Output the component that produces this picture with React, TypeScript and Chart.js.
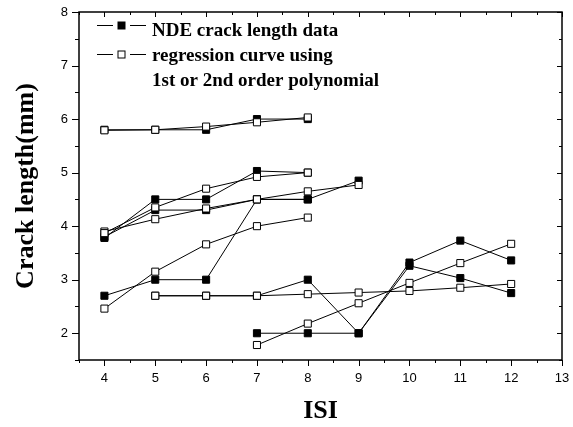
import React, { useEffect, useRef } from 'react';
import { Chart, registerables } from 'chart.js';

Chart.register(...registerables);

// ISI values and crack lengths (mm) for each specimen
const isiF = [4, 5, 6, 7, 8];
const ndeF = [5.8, 5.8, 5.8, 6.0, 6.0];
const regF = [5.79, 5.8, 5.86, 5.94, 6.03];

const isiA = [4, 5, 6, 7, 8];
const ndeA = [3.78, 4.5, 4.5, 5.03, 5.0];
const regA = [3.87, 4.35, 4.7, 4.92, 5.0];

const isiB = [4, 5, 6, 7, 8, 9];
const ndeB = [3.8, 4.3, 4.3, 4.5, 4.5, 4.85];
const regB = [3.9, 4.13, 4.33, 4.5, 4.65, 4.77];

const isiC = [4, 5, 6, 7, 8];
const ndeC = [2.7, 3.0, 3.0, 4.5, 4.5];
const regC = [2.46, 3.15, 3.66, 4.0, 4.16];

const isiD = [5, 6, 7, 8, 9, 10, 11, 12];
const ndeD = [2.7, 2.7, 2.7, 3.0, 2.0, 3.26, 3.03, 2.75];
const regD = [2.7, 2.7, 2.7, 2.73, 2.76, 2.79, 2.85, 2.92];

const isiE = [7, 8, 9, 10, 11, 12];
const ndeE = [2.0, 2.0, 2.0, 3.32, 3.73, 3.36];
const regE = [1.78, 2.18, 2.56, 2.94, 3.31, 3.67];

const xTitle = 'ISI';
const yTitle = 'Crack length(mm)';
const legendNde = 'NDE crack length data';
const legendReg = ['regression curve using', '1st or 2nd order polynomial'];

const pts = (xs: number[], ys: number[]) => xs.map((x, i) => ({ x, y: ys[i] }));

const frameAndLegend = {
  id: 'frameAndLegend',
  afterDraw(chart: any) {
    const { ctx, chartArea } = chart;
    const { left, right, top, bottom } = chartArea;
    const xs = chart.scales.x;
    const ys = chart.scales.y;
    ctx.save();
    ctx.strokeStyle = '#000';
    ctx.lineWidth = 1.5;
    ctx.strokeRect(left, top, right - left, bottom - top);
    ctx.lineWidth = 1;
    const seg = (x1: number, y1: number, x2: number, y2: number) => {
      ctx.beginPath();
      ctx.moveTo(x1, y1);
      ctx.lineTo(x2, y2);
      ctx.stroke();
    };
    for (let v = xs.min; v <= xs.max + 1e-6; v += 0.5) {
      const px = Math.round(xs.getPixelForValue(v)) + 0.5;
      const major = Math.abs(v - Math.round(v)) < 1e-6;
      seg(px, bottom, px, bottom + (major ? 6 : 3));
      seg(px, top, px, top + (major ? 5 : 3));
    }
    for (let v = ys.min; v <= ys.max + 1e-6; v += 0.5) {
      const py = Math.round(ys.getPixelForValue(v)) + 0.5;
      const major = Math.abs(v - Math.round(v)) < 1e-6;
      seg(left, py, left - (major ? 7 : 4), py);
      seg(right, py, right - (major ? 5 : 3), py);
    }
    // legend
    const drawSample = (cy: number, filled: boolean) => {
      ctx.lineWidth = 1;
      seg(97, cy + 0.5, 113, cy + 0.5);
      seg(130, cy + 0.5, 146, cy + 0.5);
      ctx.fillStyle = filled ? '#000' : '#fff';
      ctx.fillRect(118, cy - 3, 7, 7);
      ctx.strokeRect(118, cy - 3, 7, 7);
    };
    drawSample(25, true);
    drawSample(54, false);
    ctx.fillStyle = '#000';
    ctx.font = 'bold 19px "Liberation Serif", "Times New Roman", serif';
    ctx.textBaseline = 'alphabetic';
    ctx.textAlign = 'left';
    ctx.fillText(legendNde, 152, 36);
    ctx.fillText(legendReg[0], 152, 61);
    ctx.fillText(legendReg[1], 152, 86);
    ctx.restore();
  },
};

export default function App() {
  const ref = useRef<HTMLCanvasElement>(null);
  useEffect(() => {
    if (!ref.current) return;
    const nde = (xs: number[], ys: number[]) => ({
      label: legendNde,
      data: pts(xs, ys),
      borderColor: '#000',
      borderWidth: 1,
      backgroundColor: '#000',
      pointStyle: 'rect',
      pointRadius: 5,
      pointBorderWidth: 1,
      pointBorderColor: '#000',
      pointBackgroundColor: '#000',
      showLine: true,
      tension: 0,
      order: 2,
    });
    const reg = (xs: number[], ys: number[]) => ({
      label: legendReg.join(' '),
      data: pts(xs, ys),
      borderColor: '#000',
      borderWidth: 1,
      backgroundColor: '#fff',
      pointStyle: 'rect',
      pointRadius: 5,
      pointBorderWidth: 1,
      pointBorderColor: '#000',
      pointBackgroundColor: '#fff',
      showLine: true,
      tension: 0,
      order: 1,
    });
    const tickFont = { family: '"Liberation Sans", Arial, sans-serif', size: 13 };
    const titleFont = { family: '"Liberation Serif", "Times New Roman", serif', size: 26, weight: 'bold' as const };
    const noPad = (s: any) => {
      s.paddingLeft = 0;
      s.paddingRight = 0;
      s.paddingTop = 0;
      s.paddingBottom = 0;
    };
    const chart = new Chart(ref.current, {
      type: 'scatter',
      data: {
        datasets: [
          reg(isiF, regF), reg(isiA, regA), reg(isiB, regB), reg(isiC, regC), reg(isiD, regD), reg(isiE, regE),
          nde(isiF, ndeF), nde(isiA, ndeA), nde(isiB, ndeB), nde(isiC, ndeC), nde(isiD, ndeD), nde(isiE, ndeE),
        ] as any,
      },
      options: {
        animation: false,
        responsive: false,
        devicePixelRatio: 1,
        layout: { padding: { top: 12, right: 11, left: 0, bottom: 0 } },
        plugins: { legend: { display: false }, tooltip: { enabled: false } },
        scales: {
          x: {
            type: 'linear',
            min: 3.5,
            max: 13,
            ticks: { stepSize: 1, includeBounds: false, font: tickFont, color: '#000', padding: 11, maxRotation: 0 },
            grid: { drawOnChartArea: false, drawTicks: false },
            border: { display: false },
            title: { display: true, text: xTitle, font: titleFont, color: '#000', padding: { top: 0, bottom: 0 } },
            afterFit: (s: any) => { s.height = 67; noPad(s); },
          },
          y: {
            type: 'linear',
            min: 1.5,
            max: 8,
            ticks: { stepSize: 1, includeBounds: false, font: tickFont, color: '#000', padding: 11 },
            grid: { drawOnChartArea: false, drawTicks: false },
            border: { display: false },
            title: { display: true, text: yTitle, font: titleFont, color: '#000', padding: { top: 11, bottom: 0 } },
            afterFit: (s: any) => { s.width = 79; noPad(s); },
          },
        },
      } as any,
      plugins: [frameAndLegend],
    });
    return () => chart.destroy();
  }, []);
  return (
    <div style={{ position: 'fixed', left: 0, top: 0, width: 573, height: 427, background: '#fff' }}>
      <canvas ref={ref} width={573} height={427} style={{ display: 'block' }} />
    </div>
  );
}
